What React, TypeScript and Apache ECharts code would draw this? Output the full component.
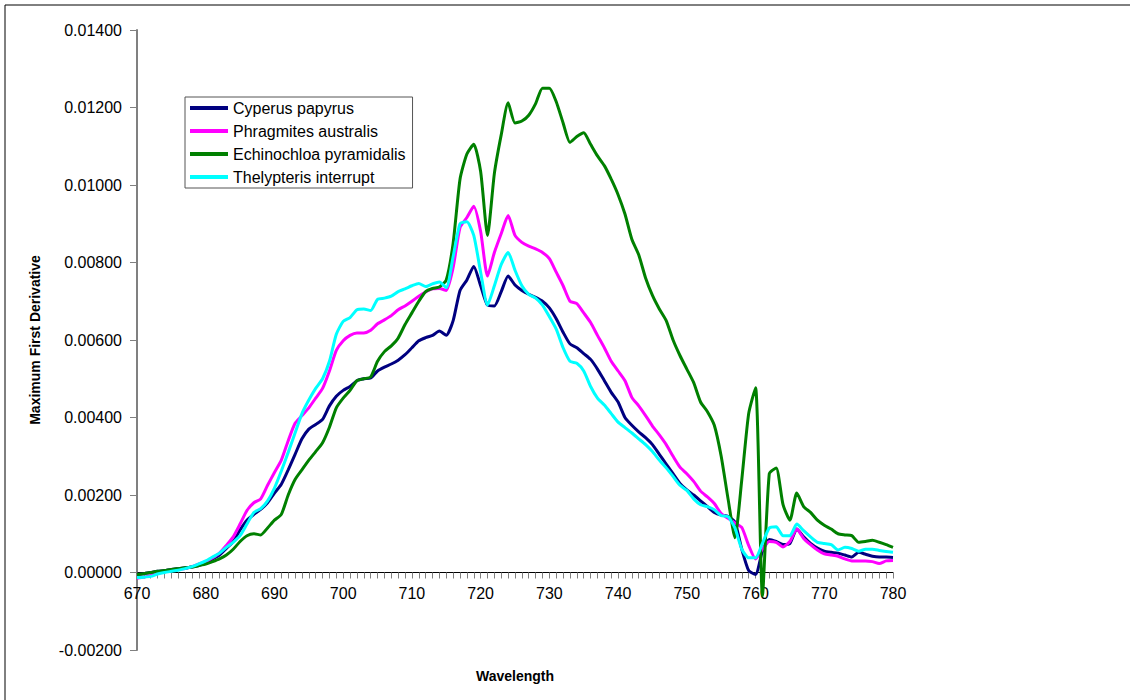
import React, { useEffect, useRef } from "react";
import * as echarts from "echarts";

// Wavelength domain (nm), 1 nm steps
const WL_START = 670;
const WL_END = 780;
const wavelengths: number[] = Array.from({ length: WL_END - WL_START + 1 }, (_, i) => WL_START + i);

// Values in units of 1e-5, 670..780 nm
const UNIT = 1e-5;

const cyperus: number[] = [
  -5, -3, 0, 3, 5, 8, 10, 12, 14, 18,
  25, 35, 45, 62, 80, 110, 135, 150, 163, 180,
  205, 228, 265, 305, 345, 370, 382, 395, 430, 455,
  470, 480, 495, 500, 502, 520, 530, 538, 548, 562,
  580, 598, 606, 612, 623, 612, 650, 728, 755, 790,
  740, 690, 688, 725, 765, 742, 728, 718, 710, 700,
  683, 655, 620, 590, 580, 565, 550, 525, 495, 465,
  440, 400, 380, 363, 348, 330, 305, 280, 255, 230,
  213, 200, 185, 170, 155, 148, 145, 130, 60, 5,
  -5, 55, 85, 80, 72, 75, 112, 92, 75, 63,
  55, 52, 50, 45, 40, 52, 47, 42, 40, 40,
  39,
];

const phragmites: number[] = [
  -15, -12, -8, -3, 2, 5, 8, 10, 15, 22,
  28, 38, 50, 70, 92, 125, 160, 180, 190, 225,
  258, 290, 340, 385, 405, 425, 450, 475, 520, 573,
  598, 612, 618, 618, 625, 642, 652, 663, 678, 688,
  700, 713, 724, 732, 733, 728, 787, 890, 916, 945,
  880, 765, 826, 875, 921, 870, 852, 842, 835, 826,
  810, 775, 740, 700, 694, 670, 645, 612, 580, 545,
  520, 495, 452, 430, 405, 378, 355, 330, 300, 272,
  255, 235, 210, 195, 178, 152, 140, 128, 116, 70,
  35, 60, 80, 78, 66, 80, 112, 88, 72, 58,
  48, 45, 42, 35, 30, 30, 30, 28, 23, 30,
  31,
];

const echinochloa: number[] = [
  -5, -3, 0, 3, 5, 8, 10, 12, 14, 18,
  22, 28, 35, 45, 60, 80, 95, 100, 97, 115,
  135, 150, 200, 240, 265, 290, 312, 335, 375, 425,
  450, 470, 495, 500, 505, 545, 570, 585, 605, 640,
  670, 700, 725, 733, 737, 755, 850, 1015, 1080, 1105,
  1035, 870, 1030, 1130, 1212, 1160, 1165, 1180, 1210, 1250,
  1250, 1215, 1160, 1110, 1125, 1135, 1105, 1075, 1050, 1015,
  975, 925, 860, 820, 760, 715, 680, 650, 600, 560,
  525, 490, 440, 415, 380, 300, 190, 90, 240, 410,
  477, -60, 255, 270, 175, 135, 205, 170, 155, 135,
  122, 112, 100, 97, 95, 78, 80, 83, 78, 72,
  65,
];

const thelypteris: number[] = [
  -13, -12, -10, -4, 0, 3, 6, 10, 15, 22,
  30, 40, 50, 65, 78, 95, 125, 155, 165, 185,
  218, 262, 310, 360, 410, 445, 475, 500, 545, 615,
  648, 658, 678, 680, 676, 705, 708, 713, 725, 732,
  740, 746, 738, 745, 750, 735, 815, 900, 905, 870,
  775, 690, 740, 795, 826, 780, 740, 718, 708, 690,
  660, 628, 580, 545, 540, 520, 480, 450, 432, 410,
  388, 374, 360, 345, 330, 312, 290, 270, 248, 225,
  212, 190, 175, 170, 162, 147, 144, 115, 60, 38,
  38, 75, 115, 118, 95, 95, 125, 108, 92, 78,
  75, 72, 58, 65, 62, 55, 60, 60, 57, 54,
  52,
];

const seriesNames = [
  "Cyperus papyrus",
  "Phragmites australis",
  "Echinochloa pyramidalis",
  "Thelypteris interrupt",
];
const seriesColors = ["#000080", "#FF00FF", "#008000", "#00FFFF"];
const seriesValues = [cyperus, phragmites, echinochloa, thelypteris];

const Y_MIN = -0.002;
const Y_MAX = 0.014;

const FONT = "Liberation Sans, Arial, sans-serif";

export default function App() {
  const ref = useRef<HTMLDivElement>(null);

  useEffect(() => {
    if (!ref.current) return;
    const chart = echarts.init(ref.current, null, { renderer: "svg" });
    const gridTop = 30;
    const gridBottom = 50;
    const plotH = 700 - gridTop - gridBottom;
    // distance from bottom of plot to the zero line
    const zeroOffset = (-Y_MIN / (Y_MAX - Y_MIN)) * plotH;
    const option: any = {
      animation: false,
      backgroundColor: "#ffffff",
      textStyle: { fontFamily: FONT },
      grid: {
        left: 137,
        right: 241,
        top: gridTop,
        bottom: gridBottom,
        containLabel: false,
        outerBoundsMode: "none",
      },
      legend: {
        orient: "vertical",
        left: 185,
        top: 97,
        padding: [1, 7, 1, 5],
        itemGap: 3,
        itemWidth: 38,
        itemHeight: 4,
        icon: "rect",
        borderColor: "#555555",
        borderWidth: 1,
        backgroundColor: "#ffffff",
        textStyle: { fontSize: 16, color: "#000", fontFamily: FONT, lineHeight: 20 },
        data: seriesNames,
      },
      xAxis: {
        type: "value",
        position: "bottom",
        offset: -zeroOffset,
        min: WL_START,
        max: WL_END,
        interval: 10,
        name: "Wavelength",
        nameLocation: "middle",
        nameGap: 96,
        nameTextStyle: { fontWeight: "bold", fontSize: 14, color: "#000", fontFamily: FONT },
        axisLine: { onZero: false, lineStyle: { color: "#000", width: 1 } },
        axisTick: { show: true, inside: false, length: 6, lineStyle: { color: "#808080" } },
        minorTick: { show: true, splitNumber: 10, length: 6, lineStyle: { color: "#808080" } },
        axisLabel: { fontSize: 16, color: "#000", margin: 13, fontFamily: FONT },
        splitLine: { show: false },
        minorSplitLine: { show: false },
      },
      yAxis: {
        type: "value",
        min: Y_MIN,
        max: Y_MAX,
        interval: 0.002,
        name: "Maximum First Derivative",
        nameLocation: "middle",
        nameGap: 95,
        nameTextStyle: { fontWeight: "bold", fontSize: 14, color: "#000", fontFamily: FONT },
        axisLine: { show: true, onZero: false, lineStyle: { color: "#808080", width: 2 } },
        axisTick: { show: true, inside: false, length: 7, lineStyle: { color: "#808080" } },
        axisLabel: {
          fontSize: 16,
          color: "#000",
          margin: 15,
          fontFamily: FONT,
          formatter: (v: number) => v.toFixed(5),
        },
        splitLine: { show: false },
      },
      graphic: [
        { type: "line", shape: { x1: 5, y1: 5, x2: 1130, y2: 5 }, style: { stroke: "#000", lineWidth: 1 } },
        { type: "line", shape: { x1: 5, y1: 5, x2: 5, y2: 700 }, style: { stroke: "#000", lineWidth: 1 } },
      ],
      series: seriesNames.map((name, i) => ({
        name,
        type: "line",
        symbol: "none",
        smooth: 0.2,
        color: seriesColors[i],
        lineStyle: { color: seriesColors[i], width: 3 },
        data: wavelengths.map((w, j) => [w, seriesValues[i][j] * UNIT]),
      })),
    };
    chart.setOption(option);
    return () => chart.dispose();
  }, []);

  return (
    <div
      ref={ref}
      style={{ position: "absolute", left: 0, top: 0, width: 1134, height: 700, background: "#fff" }}
    />
  );
}
